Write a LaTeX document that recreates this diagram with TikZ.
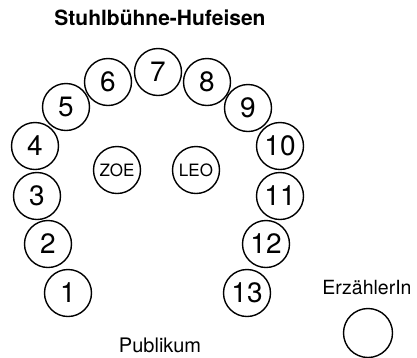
\documentclass[tikz,border=0pt]{standalone}
\usepackage{fontspec}
\setmainfont{TeX Gyre Heros}
\usepackage{tikz}

\begin{document}
\begin{tikzpicture}[x=1pt,y=-1pt,semithick]
  \tikzstyle{chair}=[circle,draw,line width=1.4pt,minimum size=47pt,inner sep=0pt,
                     font=\fontsize{28}{28}\selectfont]
  \tikzstyle{actor}=[circle,draw,line width=1.4pt,minimum size=47pt,inner sep=0pt,
                     font=\fontsize{17}{17}\selectfont]
  \tikzstyle{label}=[font=\fontsize{20}{20}\selectfont]

  \useasboundingbox (0,0) rectangle (417,357);

  \node[font=\bfseries\fontsize{21}{21}\selectfont] (title) at (160,18) {Stuhlbühne-Hufeisen};

  \foreach \n/\x/\y in {1/68/293, 2/48/244, 3/37/196, 4/35/146, 5/66/107,
                        6/108/82, 7/158/72, 8/207/82, 9/248/108, 10/280/146,
                        11/280/196, 12/266/244, 13/247/293}
    \node[chair] (c\n) at (\x,\y) {\n};

  \node[actor] (zoe) at (117,170) {ZOE};
  \node[actor] (leo) at (196,170) {LEO};

  \node[label] (publikum) at (160,345) {Publikum};
  \node[label,font=\fontsize{19.5}{19.5}\selectfont] (erzlabel) at (367,288) {ErzählerIn};
  \node[chair,minimum size=49pt] (erz) at (368,333) {};
\end{tikzpicture}
\end{document}
